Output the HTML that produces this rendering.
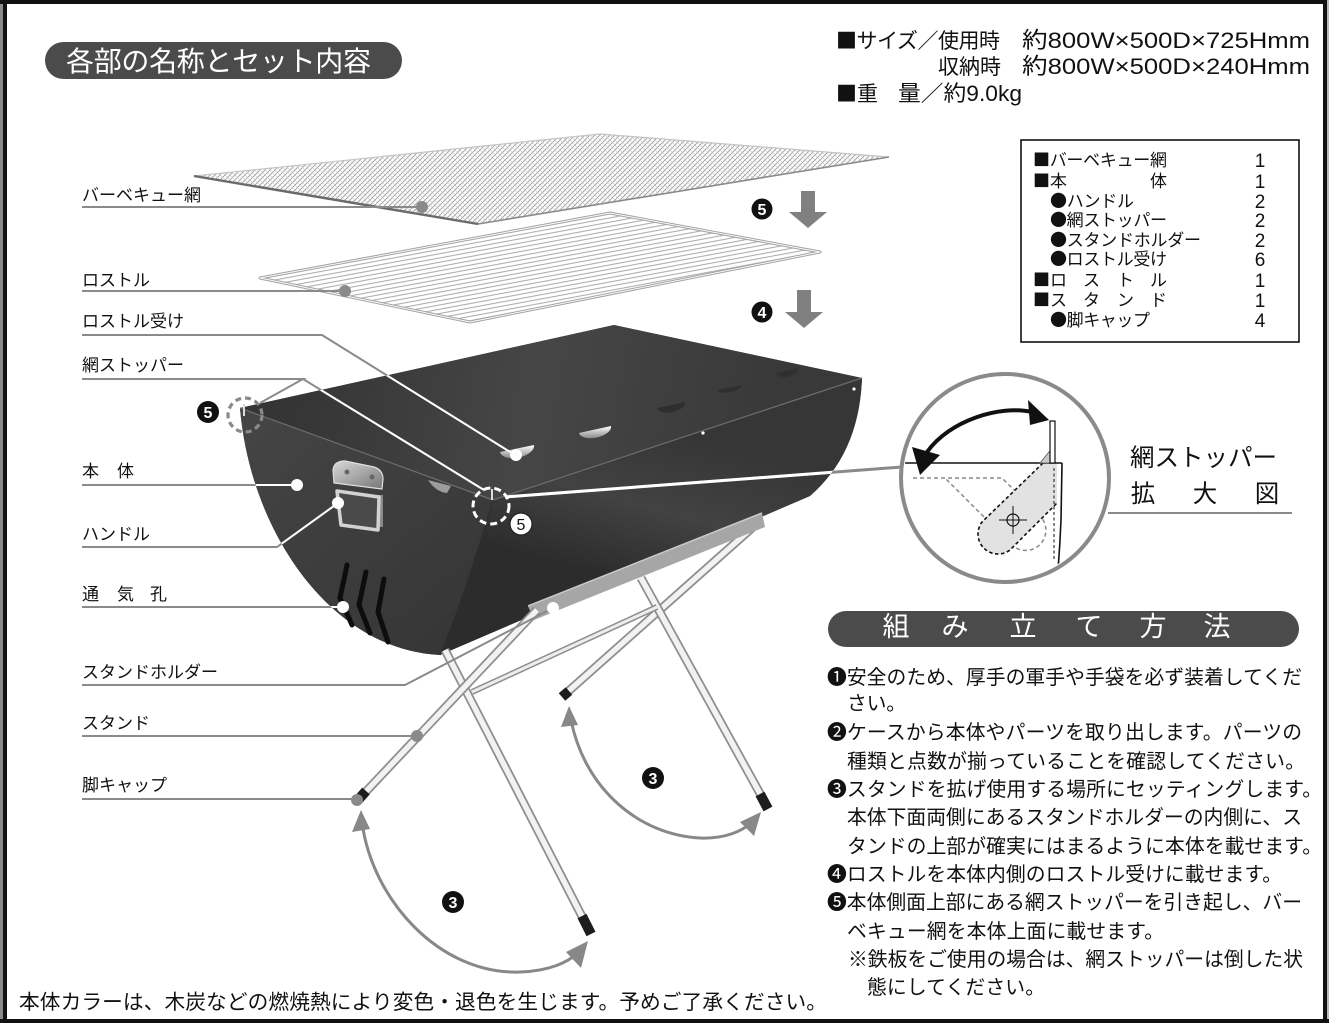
<!DOCTYPE html>
<html><head><meta charset="utf-8">
<style>
html,body{margin:0;padding:0;background:#fff;}
svg{display:block;}
text{font-family:"Liberation Sans","Noto Sans CJK JP",sans-serif;}
.s{font-family:"Noto Sans CJK JP",sans-serif;}
</style></head><body>
<svg width="1329" height="1023" viewBox="0 0 1329 1023" xmlns="http://www.w3.org/2000/svg">
<defs>
 <pattern id="mesh" patternUnits="userSpaceOnUse" width="5" height="5">
   <rect width="5" height="5" fill="#fff"/>
   <path d="M0,5 L5,0 M-1,1 L1,-1 M4,6 L6,4" stroke="#9a9a9a" stroke-width="0.8"/>
   <path d="M0,0 L5,5" stroke="#c6c6c6" stroke-width="0.6"/>
 </pattern>
 <pattern id="bars" patternUnits="userSpaceOnUse" width="20" height="4.2" patternTransform="rotate(-10.5)">
   <rect width="20" height="4.2" fill="#fff"/>
   <line x1="0" y1="2" x2="20" y2="2" stroke="#a2a2a2" stroke-width="0.9"/>
 </pattern>
 <clipPath id="bodyClip"><path d="M240,408 L614,325 L862,378 C860,430 842,468 810,496 L440,655 C330,650 250,530 240,408 Z"/></clipPath>
 <clipPath id="magClip"><circle cx="1005" cy="478" r="101"/></clipPath>
 <linearGradient id="gInt" gradientUnits="userSpaceOnUse" x1="300" y1="370" x2="760" y2="460">
   <stop offset="0" stop-color="#353535"/><stop offset="0.5" stop-color="#464646"/><stop offset="1" stop-color="#393939"/>
 </linearGradient>
 <linearGradient id="gFront" gradientUnits="userSpaceOnUse" x1="660" y1="430" x2="620" y2="580">
   <stop offset="0" stop-color="#363636"/><stop offset="0.5" stop-color="#424242"/><stop offset="1" stop-color="#2c2c2c"/>
 </linearGradient>
 <linearGradient id="gCap" gradientUnits="userSpaceOnUse" x1="260" y1="420" x2="450" y2="650">
   <stop offset="0" stop-color="#444"/><stop offset="1" stop-color="#363636"/>
 </linearGradient>
 <linearGradient id="gHandle" x1="0" y1="0" x2="1" y2="1">
   <stop offset="0" stop-color="#d8d8d8"/><stop offset="1" stop-color="#777"/>
 </linearGradient>
 <linearGradient id="gRec" x1="0" y1="0" x2="0" y2="1">
   <stop offset="0" stop-color="#fff"/><stop offset="1" stop-color="#8a8a8a"/>
 </linearGradient>
</defs>

<rect width="1329" height="1023" fill="#fff"/>

<!-- frame -->
<rect x="0" y="0" width="3" height="1023" fill="#8a8a8a"/>
<rect x="3" y="0" width="4" height="1023" fill="#111"/>
<rect x="0" y="0" width="1329" height="4" fill="#111"/>
<rect x="1323" y="0" width="4" height="1023" fill="#111"/>
<rect x="1327" y="0" width="2" height="1023" fill="#bbb"/>
<rect x="0" y="1019" width="1329" height="4" fill="#111"/>

<!-- header pill -->
<rect x="45" y="42" width="357" height="37" rx="18.5" fill="#4b4b4b"/>
<text x="66" y="71" font-size="28" fill="#fff" textLength="305">各部の名称とセット内容</text>

<!-- specs -->
<g font-size="21" fill="#111">
 <text x="836" y="48" textLength="164"><tspan class="s">■</tspan>サイズ／使用時</text>
 <text x="1022" y="48" font-size="22.5" textLength="288" lengthAdjust="spacingAndGlyphs">約800W×500D×725Hmm</text>
 <text x="938" y="74" textLength="63">収納時</text>
 <text x="1022" y="74" font-size="22.5" textLength="288" lengthAdjust="spacingAndGlyphs">約800W×500D×240Hmm</text>
 <text x="836" y="101" textLength="42"><tspan class="s">■</tspan>重</text>
 <text x="898" y="101" font-size="22" textLength="124" lengthAdjust="spacingAndGlyphs">量／約9.0kg</text>
</g>

<!-- parts box -->
<rect x="1021" y="140" width="278" height="202" fill="none" stroke="#111" stroke-width="1.6"/>
<g font-size="17" fill="#111">
 <text x="1033" y="166" textLength="134"><tspan class="s">■</tspan>バーベキュー網</text>
 <text x="1033" y="187"><tspan class="s">■</tspan>本</text><text x="1150" y="187">体</text>
 <text x="1050" y="207" textLength="84"><tspan class="s">●</tspan>ハンドル</text>
 <text x="1050" y="226" textLength="117"><tspan class="s">●</tspan>網ストッパー</text>
 <text x="1050" y="246" textLength="151"><tspan class="s">●</tspan>スタンドホルダー</text>
 <text x="1050" y="265" textLength="117"><tspan class="s">●</tspan>ロストル受け</text>
 <text x="1033" y="286"><tspan class="s">■</tspan>ロ</text><text x="1083" y="286">ス</text><text x="1117" y="286">ト</text><text x="1150" y="286">ル</text>
 <text x="1033" y="306"><tspan class="s">■</tspan>ス</text><text x="1083" y="306">タ</text><text x="1117" y="306">ン</text><text x="1150" y="306">ド</text>
 <text x="1050" y="326" textLength="100"><tspan class="s">●</tspan>脚キャップ</text>
</g>
<g font-size="19" fill="#111" text-anchor="middle">
 <text x="1260" y="167">1</text><text x="1260" y="188">1</text><text x="1260" y="208">2</text>
 <text x="1260" y="227">2</text><text x="1260" y="247">2</text><text x="1260" y="266">6</text>
 <text x="1260" y="287">1</text><text x="1260" y="307">1</text><text x="1260" y="327">4</text>
</g>

<!-- BBQ net -->
<polygon points="194,176 600,134 889,157 478,224" fill="url(#mesh)"/>
<path d="M194,176 L600,134 L889,157" stroke="#c4c4c4" stroke-width="1.2" fill="none"/>
<path d="M478,224 L889,157" stroke="#8a8a8a" stroke-width="1.6" fill="none"/>
<path d="M194,176 L478,224" stroke="#6a6a6a" stroke-width="2.4" fill="none"/>

<!-- rostol -->
<polygon points="260,278 610,213 820,252 470,322" fill="url(#bars)" stroke="#a3a3a3" stroke-width="3" stroke-linejoin="round"/>
<polygon points="260,278 610,213 820,252 470,322" fill="none" stroke="#fafafa" stroke-width="1" stroke-linejoin="round"/>

<!-- step arrows 5 / 4 -->
<polygon points="801,191 815,191 815,212 827,212 808,228 789,212 801,212" fill="#808080"/>
<circle cx="762" cy="209" r="10.5" fill="#111"/>
<text x="762" y="215" font-size="16" fill="#fff" text-anchor="middle" font-weight="bold">5</text>
<polygon points="797,290 811,290 811,312 823,312 804,328 785,312 797,312" fill="#808080"/>
<circle cx="762" cy="312" r="10.5" fill="#111"/>
<text x="762" y="318" font-size="16" fill="#fff" text-anchor="middle" font-weight="bold">4</text>

<!-- back legs -->
<g fill="none" stroke-linecap="butt">
 <line x1="752" y1="528" x2="563" y2="696" stroke="#8e8e8e" stroke-width="9"/>
 <line x1="752" y1="528" x2="563" y2="696" stroke="#f2f2f2" stroke-width="5.5"/>
 <line x1="641" y1="578" x2="768" y2="808" stroke="#8e8e8e" stroke-width="9"/>
 <line x1="641" y1="578" x2="768" y2="808" stroke="#f2f2f2" stroke-width="5.5"/>
 <line x1="472" y1="692" x2="657" y2="607" stroke="#8e8e8e" stroke-width="6"/>
 <line x1="472" y1="692" x2="657" y2="607" stroke="#ededed" stroke-width="3"/>
 <line x1="569" y1="691" x2="562" y2="697" stroke="#1d1d1d" stroke-width="10"/>
 <line x1="760" y1="794" x2="768" y2="809" stroke="#1d1d1d" stroke-width="10"/>
</g>

<!-- body -->
<path d="M240,408 L614,325 L862,378 C860,430 842,468 810,496 L440,655 C330,650 250,530 240,408 Z" fill="#383838"/>
<path d="M240,408 L614,325 L862,378 L493,500 Z" fill="url(#gInt)"/>
<path d="M493,500 L862,378 C860,430 842,468 810,496 L440,655 C455,620 475,560 493,500 Z" fill="url(#gFront)"/>
<path d="M240,408 L493,500 C475,560 455,620 440,655 C330,650 250,530 240,408 Z" fill="url(#gCap)"/>
<path d="M493,500 L862,378" stroke="#6d6d6d" stroke-width="1.2" fill="none"/>
<path d="M240,408 L493,500" stroke="#6d6d6d" stroke-width="1.2" fill="none"/>
<path d="M493,500 C475,560 455,620 440,655" stroke="#2e2e2e" stroke-width="1" fill="none"/>
<!-- roster receivers -->
<path d="M500,452 L534,445 A17,9 -12 0 1 500,452 Z" fill="url(#gRec)"/>
<path d="M579,433 L611,426 A16,8 -12 0 1 579,433 Z" fill="url(#gRec)"/>
<path d="M657,408 L685,402 A14,7 -12 0 1 657,408 Z" fill="#2e2e2e"/>
<path d="M717,390 L742,385 A13,6 -12 0 1 717,390 Z" fill="#2f2f2f"/>
<path d="M776,373 L798,368 A11,6 -12 0 1 776,373 Z" fill="#303030"/>
<path d="M428,480 L451,486 L447,493 Q436,492 428,480 Z" fill="#9c9c9c"/>
<circle cx="703" cy="433" r="1.6" fill="#fff"/>
<circle cx="854" cy="389" r="1.6" fill="#fff"/>
<!-- handle -->
<path d="M333,470 Q334,461 345,461 L374,467 Q383,470 383,479 L382,489 L334,483 Z" fill="url(#gHandle)" stroke="#e0e0e0" stroke-width="1.2"/>
<circle cx="347" cy="472" r="2.5" fill="#666"/>
<circle cx="372" cy="477" r="2.5" fill="#666"/>
<rect x="377" y="495" width="6" height="32" fill="#8a8a8a"/>
<path d="M337,491 L379,497 L378,530 L341,525 Z" fill="#4a4a4a" stroke="#d2d2d2" stroke-width="3.5" stroke-linejoin="round"/>
<!-- vents -->
<g stroke="#0d0d0d" stroke-width="5" stroke-linecap="round" fill="none" stroke-linejoin="round">
 <path d="M347,565 L340,598 L352,625"/>
 <path d="M366,572 L359,605 L370,633"/>
 <path d="M384,579 L378,612 L388,642"/>
</g>
<!-- holder -->
<polygon points="528,606 762,513 765,527 534,620" fill="#a6a6a6"/>
<line x1="528" y1="606" x2="762" y2="513" stroke="#c8c8c8" stroke-width="1.5"/>

<!-- front legs -->
<g fill="none">
 <line x1="445" y1="650" x2="590" y2="932" stroke="#8e8e8e" stroke-width="9"/>
 <line x1="445" y1="650" x2="590" y2="932" stroke="#f2f2f2" stroke-width="5.5"/>
 <line x1="582" y1="916" x2="591" y2="934" stroke="#1d1d1d" stroke-width="10"/>
 <line x1="537" y1="610" x2="358" y2="800" stroke="#8e8e8e" stroke-width="9"/>
 <line x1="537" y1="610" x2="358" y2="800" stroke="#f2f2f2" stroke-width="5.5"/>
 <line x1="366" y1="791" x2="358" y2="800" stroke="#1d1d1d" stroke-width="10"/>
</g>

<!-- leader lines -->
<g stroke="#8a8a8a" stroke-width="2" fill="none">
 <path d="M82,207 H422"/>
 <path d="M82,291 H345"/>
 <path d="M82,335 H322 L515,455"/>
 <path d="M82,379 H303 L260,403"/>
 <path d="M303,379 L484,490"/>
 <path d="M82,485 H297"/>
 <path d="M82,547 H277 L338,503"/>
 <path d="M82,607 H343"/>
 <path d="M82,685 H405 L553,608"/>
 <path d="M82,736 H417"/>
 <path d="M82,799 H357"/>
 <path d="M505,497 L902,467" stroke-width="3"/>
</g>
<g stroke="#fff" stroke-width="2" fill="none" clip-path="url(#bodyClip)">
 <path d="M82,335 H322 L515,455"/>
 <path d="M303,379 L484,490"/>
 <path d="M82,485 H297"/>
 <path d="M82,547 H277 L338,503"/>
 <path d="M82,607 H343"/>
 <path d="M505,497 L902,467" stroke-width="3"/>
</g>
<!-- dots -->
<g fill="#8a8a8a">
 <circle cx="422" cy="207" r="6"/><circle cx="345" cy="291" r="6"/>
 <circle cx="417" cy="736" r="6"/><circle cx="357" cy="800" r="6"/>
</g>
<g fill="#fff">
 <circle cx="516" cy="455" r="6"/><circle cx="297" cy="485" r="6"/>
 <circle cx="338" cy="503" r="6"/><circle cx="343" cy="607" r="6"/>
 <circle cx="553" cy="608" r="6"/>
</g>

<!-- stopper marks -->
<line x1="244" y1="404" x2="244" y2="416" stroke="#ddd" stroke-width="2"/>
<circle cx="245" cy="415" r="17" fill="none" stroke="#8a8a8a" stroke-width="3.2" stroke-dasharray="6 4"/>
<circle cx="208" cy="412" r="11" fill="#111"/>
<text x="208" y="418" font-size="16" fill="#fff" text-anchor="middle" font-weight="bold">5</text>
<line x1="492" y1="489" x2="492" y2="500" stroke="#ddd" stroke-width="2"/>
<circle cx="491" cy="506" r="18" fill="none" stroke="#fff" stroke-width="3" stroke-dasharray="7 4"/>
<circle cx="521" cy="524" r="11" fill="#fff" stroke="#222" stroke-width="1.2"/>
<text x="521" y="530" font-size="16" fill="#111" text-anchor="middle">5</text>

<!-- rotation arcs -->
<g stroke="#888" stroke-width="3" fill="none">
 <path d="M362,822 C372,900 440,975 520,972 C550,971 568,962 578,953"/>
 <path d="M571,720 C585,790 640,835 700,838 C725,839 742,831 751,823"/>
</g>
<polygon points="361,810 352,832 370,829" fill="#888"/>
<polygon points="588,941 566,952 581,968" fill="#888"/>
<polygon points="569,706 561,727 578,725" fill="#888"/>
<polygon points="761,812 740,822 754,836" fill="#888"/>
<circle cx="453" cy="902" r="11" fill="#111"/>
<text x="453" y="908" font-size="16" fill="#fff" text-anchor="middle" font-weight="bold">3</text>
<circle cx="653" cy="778" r="11" fill="#111"/>
<text x="653" y="784" font-size="16" fill="#fff" text-anchor="middle" font-weight="bold">3</text>

<!-- magnifier -->
<circle cx="1005" cy="478" r="104" fill="#fff" stroke="#8a8a8a" stroke-width="4"/>
<g clip-path="url(#magClip)">
 <path d="M913,478 H1002 L1040,516 A20,20 0 0 1 1011.5,544.5 L946,479" fill="none" stroke="#8a8a8a" stroke-width="1.5" stroke-dasharray="4 3"/>
 <path d="M1043,463 L982,522 A20,20 0 0 0 1010,550 L1057,503 L1057,463 Z" fill="#e2e2e2"/>
 <path d="M1043,463 L982,522 A20,20 0 0 0 1010,550 L1057,503" fill="none" stroke="#111" stroke-width="1.6" stroke-dasharray="3.5 2.5"/>
 <path d="M1054,468 V560" stroke="#444" stroke-width="1.3" stroke-dasharray="3 2.5" fill="none"/>
 <path d="M1062,463 L1061,520 Q1060,545 1058,570" stroke="#111" stroke-width="1.6" fill="none"/>
 <line x1="900" y1="463" x2="1062" y2="463" stroke="#111" stroke-width="1.6"/>
 <polygon points="1040,463 1053,447 1053,463" fill="#c8c8c8" stroke="#555" stroke-width="0.8"/>
 <rect x="1050" y="421" width="5" height="42" fill="#fff" stroke="#111" stroke-width="1.2"/>
 <circle cx="1013" cy="520" r="6" fill="none" stroke="#111" stroke-width="1.2"/>
 <path d="M999,520 H1027 M1013,506 V534" stroke="#111" stroke-width="1"/>
 <path d="M927,452 C950,420 1000,405 1032,412" stroke="#111" stroke-width="4" fill="none"/>
 <polygon points="920,475 912,447 940,455" fill="#111"/>
 <polygon points="1049,420 1028,400 1030,425" fill="#111"/>
</g>
<line x1="1108" y1="513" x2="1292" y2="513" stroke="#8a8a8a" stroke-width="2"/>
<text x="1130" y="466" font-size="24.5" fill="#111" textLength="147">網ストッパー</text>
<g font-size="24.5" fill="#111" text-anchor="middle">
 <text x="1143" y="502">拡</text><text x="1205" y="502">大</text><text x="1267" y="502">図</text>
</g>

<!-- left labels -->
<g font-size="17" fill="#111">
 <text x="82" y="201" textLength="119">バーベキュー網</text>
 <text x="82" y="286" textLength="68">ロストル</text>
 <text x="82" y="327" textLength="102">ロストル受け</text>
 <text x="82" y="371" textLength="102">網ストッパー</text>
 <text x="82" y="477">本</text><text x="117" y="477">体</text>
 <text x="82" y="540" textLength="68">ハンドル</text>
 <text x="82" y="600">通</text><text x="117" y="600">気</text><text x="150" y="600">孔</text>
 <text x="82" y="678" textLength="136">スタンドホルダー</text>
 <text x="82" y="729" textLength="68">スタンド</text>
 <text x="82" y="791" textLength="85">脚キャップ</text>
</g>

<!-- assembly header -->
<rect x="828" y="611" width="471" height="36" rx="18" fill="#4b4b4b"/>
<g font-size="27" fill="#fff" text-anchor="middle">
 <text x="896" y="636">組</text><text x="955" y="636">み</text><text x="1023" y="636">立</text>
 <text x="1089" y="636">て</text><text x="1153" y="636">方</text><text x="1217" y="636">法</text>
</g>

<!-- instructions -->
<g font-size="19.8" fill="#111">
 <text x="827" y="684" textLength="475">❶安全のため、厚手の軍手や手袋を必ず装着してくだ</text>
 <text x="847" y="710" textLength="59">さい。</text>
 <text x="827" y="739" textLength="475">❷ケースから本体やパーツを取り出します。パーツの</text>
 <text x="847" y="768" textLength="458">種類と点数が揃っていることを確認してください。</text>
 <text x="827" y="796" textLength="495">❸スタンドを拡げ使用する場所にセッティングします。</text>
 <text x="847" y="824" textLength="455">本体下面両側にあるスタンドホルダーの内側に、ス</text>
 <text x="847" y="853" textLength="475">タンドの上部が確実にはまるように本体を載せます。</text>
 <text x="827" y="881" textLength="455">❹ロストルを本体内側のロストル受けに載せます。</text>
 <text x="827" y="909" textLength="475">❺本体側面上部にある網ストッパーを引き起し、バー</text>
 <text x="847" y="938" textLength="317">ベキュー網を本体上面に載せます。</text>
 <text x="848" y="966" textLength="455">※鉄板をご使用の場合は、網ストッパーは倒した状</text>
 <text x="867" y="994" textLength="178">態にしてください。</text>
</g>

<!-- bottom note -->
<text x="19" y="1009" font-size="20.7" fill="#111" textLength="808">本体カラーは、木炭などの燃焼熱により変色・退色を生じます。予めご了承ください。</text>
</svg>
</body></html>
